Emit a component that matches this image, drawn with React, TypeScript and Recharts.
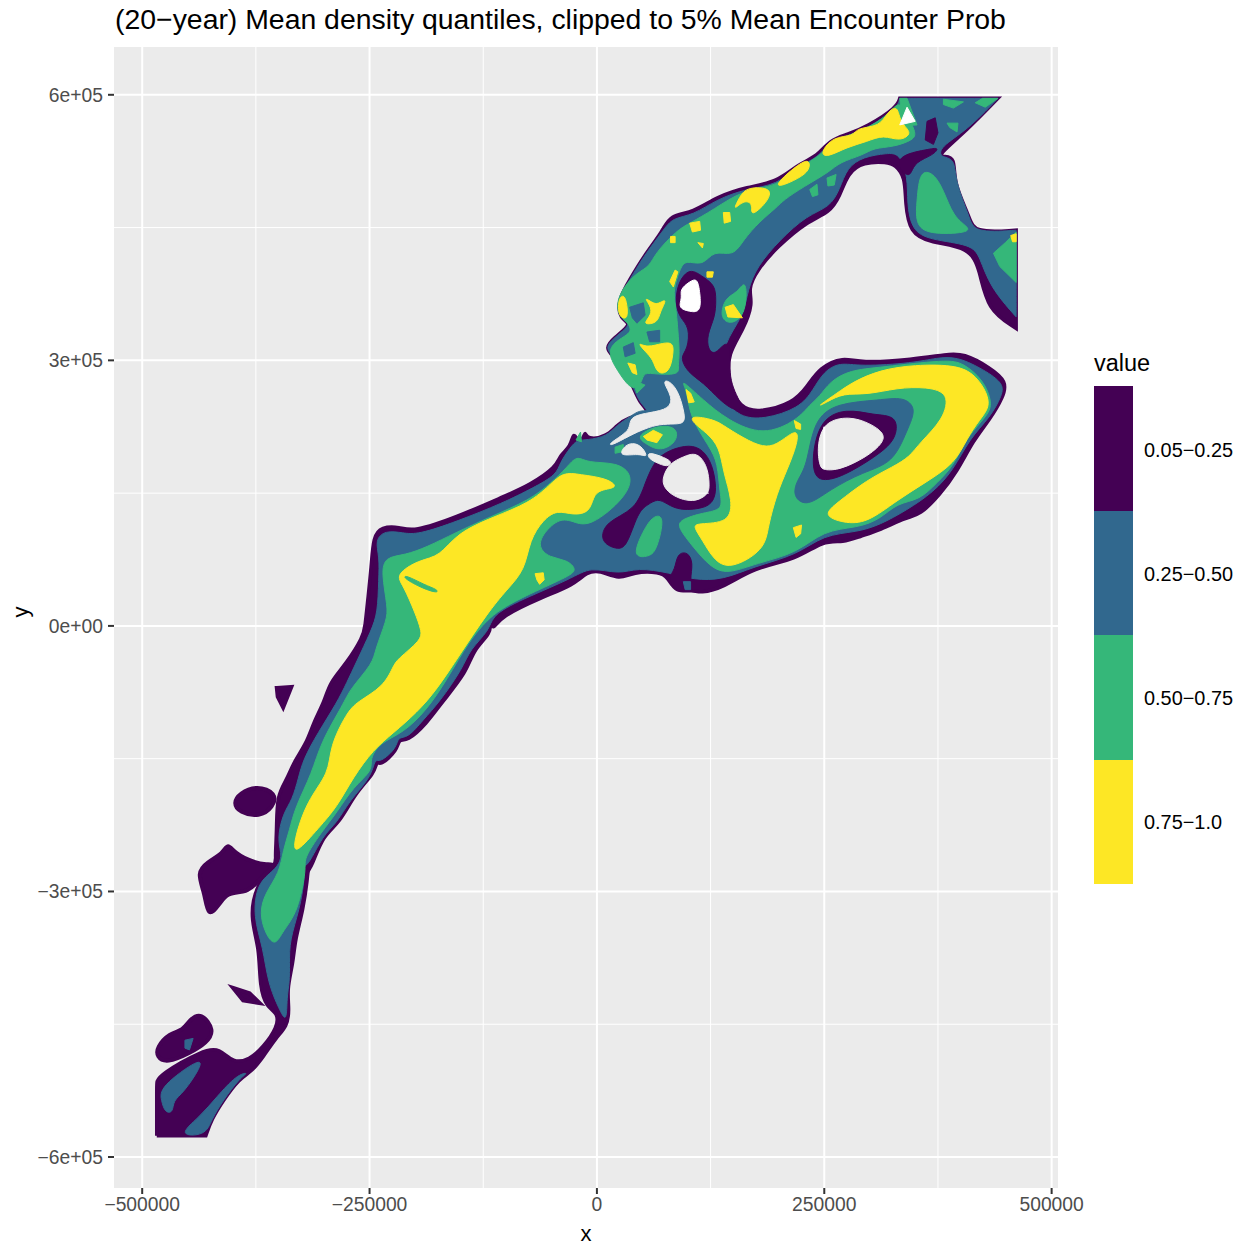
import { ScatterChart, Scatter, XAxis, YAxis, CartesianGrid } from 'recharts'

// all rings are [x, y], in thousands of map units
// a vertex written three times keeps its corner sharp once the ring is smoothed
const DARK_MAIN = [[-484,-576],[-484,-576],[-484,-576],[-430,-576],[-430,-576],[-430,-576],[-424,-558],[-411,-536],[-393,-511],[-380,-504],[-367,-487],[-352,-464],[-341,-453],[-338,-434],[-341,-411],[-334,-381],[-332,-355],[-323,-321],[-318,-284],[-318,-276],[-314,-273],[-301,-236],[-283,-223],[-266,-189],[-244,-166],[-242,-151],[-239,-159],[-219,-140],[-218,-127],[-209,-131],[-187,-110],[-171,-87],[-143,-52],[-136,-27],[-116,-8],[-118,5],[-114,-5],[-107,10],[-59,33],[-26,46],[-11,61],[3,63],[25,52],[40,61],[69,61],[78,55],[86,38],[106,41],[113,37],[139,43],[172,66],[220,75],[249,97],[271,94],[289,101],[311,108],[341,123],[355,125],[377,148],[396,174],[414,210],[432,233],[447,259],[451,276],[432,292],[403,308],[385,307],[348,301],[289,297],[271,304],[245,292],[231,270],[216,252],[179,241],[157,246],[144,275],[144,308],[161,334],[172,365],[166,380],[176,402],[198,428],[231,457],[256,467],[267,485],[276,512],[293,524],[319,524],[328,521],[339,507],[339,478],[344,444],[366,433],[410,428],[421,402],[429,357],[461,336],[461,336],[461,336],[461,447],[461,447],[461,447],[414,444],[410,462],[392,501],[394,530],[381,530],[375,532],[407,560],[441,596],[441,596],[441,596],[333,596],[333,596],[333,596],[330,586],[297,564],[275,555],[256,549],[242,530],[223,523],[198,501],[165,496],[132,485],[106,467],[80,464],[73,447],[51,417],[36,391],[23,368],[25,346],[40,342],[18,325],[9,314],[18,304],[29,293],[40,270],[47,252],[58,242],[47,237],[36,236],[22,227],[11,214],[-11,210],[-13,221],[-15,210],[-22,210],[-26,219],[-29,202],[-41,193],[-44,180],[-74,159],[-103,146],[-154,123],[-202,106],[-217,112],[-237,112],[-246,101],[-248,67],[-252,29],[-255,-1],[-257,-12],[-275,-42],[-294,-64],[-299,-84],[-312,-110],[-319,-132],[-334,-155],[-341,-174],[-352,-191],[-352,-231],[-354,-264],[-352,-268],[-374,-290],[-382,-329],[-371,-363],[-371,-408],[-363,-431],[-351,-437],[-351,-453],[-367,-476],[-382,-490],[-400,-494],[-415,-477],[-433,-479],[-481,-507],[-484,-516],[-484,-516]]
const DARK_ISLANDS = [
  [[-393,-189],[-374,-180],[-352,-189],[-356,-205],[-371,-216],[-393,-211],[-400,-200]],
  [[-440,-279],[-429,-267],[-411,-257],[-406,-245],[-398,-257],[-378,-267],[-363,-270],[-352,-268],[-374,-290],[-384,-301],[-407,-301],[-415,-315],[-428,-330],[-431,-302]],
  [[-352,-70],[-336,-69],[-345,-92],[-351,-80]],
  [[-400,-409],[-382,-415],[-371,-426],[-389,-423]],
  [[-484,-476],[-470,-460],[-455,-457],[-448,-445],[-435,-436],[-420,-457],[-429,-471],[-448,-483],[-473,-494],[-484,-487]],
]
const BLUE_MAIN = [[-341,-449],[-349,-434],[-362,-403],[-367,-363],[-378,-329],[-374,-290],[-354,-276],[-345,-261],[-352,-242],[-345,-211],[-335,-197],[-328,-171],[-323,-151],[-307,-121],[-286,-87],[-275,-64],[-265,-42],[-248,-5],[-241,15],[-240,52],[-239,78],[-244,97],[-233,108],[-213,105],[-197,103],[-154,118],[-103,139],[-70,156],[-44,171],[-41,184],[-29,202],[-22,210],[-11,210],[11,214],[22,227],[36,236],[47,244],[58,242],[47,252],[40,270],[29,293],[18,304],[9,314],[18,325],[40,342],[25,346],[23,368],[36,391],[51,417],[73,447],[83,461],[106,464],[132,482],[165,494],[198,498],[223,521],[242,528],[256,547],[275,553],[297,562],[330,584],[333,596],[333,596],[333,596],[441,596],[441,596],[441,596],[407,560],[377,541],[377,529],[394,529],[394,501],[410,462],[414,444],[461,447],[461,447],[461,447],[461,349],[461,349],[461,349],[432,383],[421,417],[412,431],[366,436],[346,447],[341,478],[342,507],[333,534],[319,534],[293,530],[275,518],[267,493],[256,473],[231,464],[201,436],[176,406],[166,380],[161,349],[139,320],[135,278],[139,255],[157,236],[183,233],[223,246],[238,267],[249,287],[267,298],[289,293],[348,297],[374,303],[396,304],[421,292],[447,275],[446,261],[432,235],[410,212],[392,176],[370,151],[341,131],[311,114],[286,106],[249,103],[220,80],[172,67],[139,52],[106,52],[80,60],[44,66],[25,58],[-8,67],[-26,54],[-92,26],[-116,10],[-118,-5],[-140,-27],[-147,-47],[-173,-86],[-191,-106],[-208,-127],[-219,-125],[-220,-138],[-239,-155],[-244,-149],[-248,-171],[-272,-197],[-286,-223],[-301,-236],[-318,-272],[-323,-270],[-321,-284],[-327,-321],[-338,-355],[-338,-381],[-338,-403],[-341,-419]]
const BLUE_SW = [
  [[-481,-521],[-435,-487],[-435,-498],[-455,-528],[-466,-536],[-466,-550],[-475,-550],[-479,-536]],
  [[-462,-576],[-430,-576],[-424,-558],[-411,-536],[-393,-511],[-382,-504],[-396,-507],[-418,-532],[-437,-555]],
  [[-453,-468],[-444,-466],[-448,-479],[-453,-477]],
]
const GREEN_SOUTH = [[-354,-363],[-365,-347],[-371,-324],[-365,-302],[-349,-279],[-345,-253],[-338,-231],[-332,-205],[-313,-166],[-304,-132],[-278,-87],[-272,-72],[-246,-42],[-244,-27],[-231,7],[-230,21],[-237,60],[-233,78],[-211,80],[-187,89],[-156,105],[-118,123],[-74,142],[-50,162],[-33,179],[-22,193],[-11,184],[22,185],[40,171],[33,146],[-8,111],[-26,118],[-41,122],[-59,105],[-65,89],[-52,77],[-33,75],[-21,63],[-33,55],[-81,33],[-107,18],[-120,7],[-140,-16],[-165,-61],[-187,-95],[-213,-121],[-239,-132],[-250,-151],[-246,-163],[-268,-182],[-286,-211],[-303,-233],[-323,-264],[-319,-272],[-329,-324],[-345,-344]]
const GREEN_EAST = [[91,280],[99,267],[102,236],[124,202],[133,184],[135,150],[139,131],[117,128],[91,120],[89,111],[106,89],[124,67],[143,58],[176,71],[220,82],[249,108],[286,111],[311,120],[330,139],[355,142],[374,162],[392,180],[407,214],[430,238],[435,252],[425,278],[403,297],[385,301],[311,292],[278,289],[256,276],[245,259],[234,250],[221,233],[183,214],[143,233],[117,255]]
const GREEN_NORTH = [[352,557],[348,549],[326,541],[304,540],[293,532],[267,524],[256,513],[227,496],[205,481],[198,473],[179,457],[161,436],[150,417],[128,425],[117,406],[97,414],[91,402],[84,380],[86,365],[88,348],[89,334],[91,308],[89,293],[91,284],[66,284],[51,287],[50,275],[39,264],[22,289],[11,310],[22,323],[40,332],[33,344],[23,351],[22,368],[31,385],[44,399],[58,406],[64,421],[88,447],[102,455],[128,470],[161,493],[198,496],[223,519],[245,530],[260,549],[286,557],[315,572],[331,592],[336,586]]
const GREEN_PATCHES = [
  [[38,77],[51,108],[62,125],[75,125],[66,86],[58,78]],
  [[141,371],[154,376],[163,391],[165,372],[161,349],[146,340],[135,349]],
  [[381,595],[403,592],[392,585],[381,589]],
  [[424,596],[441,596],[427,586],[416,591]],
  [[385,568],[397,568],[396,558],[388,563]],
  [[333,596],[341,596],[352,566],[336,565]],
  [[355,515],[370,512],[381,493],[392,462],[408,451],[410,444],[363,442],[350,455],[352,481]],
  [[461,445],[449,433],[436,421],[443,406],[461,388]],
  [[234,493],[242,499],[243,487],[237,485]],
  [[253,506],[263,510],[261,498],[254,497]],
  [[42,214],[66,227],[89,225],[88,207],[69,197],[55,205]],
  [[20,202],[29,205],[29,197],[20,195]],
  [[-23,210],[-18,219],[-17,208]],
  [[39,278],[53,272],[44,263]],
]
const BLUE_PATCHES = [
  [[238,233],[264,252],[311,255],[337,259],[352,246],[341,221],[326,184],[293,174],[256,154],[231,134],[215,146],[220,165],[231,180]],
  [[36,360],[51,365],[53,351],[44,342],[39,348]],
  [[55,332],[69,334],[69,321],[58,321]],
  [[29,315],[40,320],[42,308],[31,304]],
]
const YELLOW_PATCHES = [
  [[-332,-259],[-334,-245],[-319,-197],[-294,-166],[-294,-137],[-275,-98],[-264,-86],[-235,-69],[-224,-46],[-220,-38],[-193,-16],[-193,-5],[-200,15],[-213,46],[-222,58],[-195,75],[-173,78],[-154,105],[-114,123],[-74,139],[-52,159],[-37,174],[-19,171],[11,167],[25,156],[3,154],[-4,146],[-8,128],[-26,125],[-44,131],[-59,120],[-74,97],[-79,63],[-99,41],[-120,15],[-151,-33],[-176,-72],[-198,-98],[-224,-121],[-246,-140],[-268,-171],[-286,-205],[-305,-227]],
  [[102,238],[130,233],[141,225],[168,208],[187,201],[201,207],[221,224],[221,207],[209,176],[198,150],[188,112],[185,86],[146,63],[128,75],[116,97],[106,112],[110,116],[146,116],[149,142],[139,173],[135,202],[121,218],[106,229]],
  [[240,246],[264,263],[282,276],[311,289],[348,295],[399,295],[418,281],[429,263],[432,247],[421,233],[407,212],[394,184],[363,163],[330,142],[297,116],[271,116],[248,125],[264,139],[297,165],[326,180],[344,191],[355,207],[381,233],[388,263],[363,270],[330,269],[297,261],[271,263],[253,253]],
  [[-68,59],[-59,60],[-58,52],[-63,47],[-66,52]],
  [[141,360],[150,363],[160,348],[144,349]],
  [[331,589],[319,580],[311,564],[286,563],[282,553],[260,553],[245,534],[253,529],[275,541],[297,547],[315,555],[333,547],[348,557],[333,568]],
  [[234,527],[223,523],[198,501],[199,495],[223,506],[234,515]],
  [[165,496],[194,495],[187,478],[168,461],[172,478],[161,481],[149,468],[157,485]],
  [[139,467],[146,467],[147,457],[140,455]],
  [[102,455],[113,457],[114,447],[105,445]],
  [[81,440],[86,440],[86,433],[81,433]],
  [[111,433],[117,432],[116,427]],
  [[121,400],[128,400],[127,394],[121,394]],
  [[25,372],[31,374],[34,357],[33,346],[25,349],[23,360]],
  [[51,372],[61,365],[67,363],[78,371],[69,354],[67,342],[50,340],[58,349],[61,359]],
  [[86,402],[89,400],[84,383],[80,389]],
  [[44,321],[55,314],[73,320],[84,320],[84,308],[80,286],[66,284],[62,301],[53,310]],
  [[34,297],[42,295],[44,284],[39,286]],
  [[98,267],[103,263],[107,253],[101,252]],
  [[455,441],[461,443],[461,434],[457,434]],
  [[51,214],[62,221],[72,216],[66,207],[55,210]],
  [[217,232],[224,228],[224,222],[219,223]],
  [[216,111],[225,114],[224,104],[219,100]],
]
const GREEN_STREAK = [[-211,58],[-189,46],[-175,41],[-175,37],[-191,42],[-213,54]]
const DARK_PATCHES = [
  [[102,405],[117,394],[130,385],[131,368],[130,349],[121,329],[122,312],[130,306],[140,320],[148,318],[144,275],[163,246],[152,242],[135,255],[117,275],[100,286],[91,304],[100,312],[102,338],[91,348],[86,365],[89,388]],
  [[64,188],[80,199],[102,205],[117,199],[127,182],[131,159],[130,145],[122,133],[91,130],[77,138],[67,144],[56,137],[45,129],[33,89],[22,86],[3,95],[9,118],[43,131],[53,162]],
  [[88,82],[100,84],[106,71],[102,52],[106,41],[86,38],[78,55],[86,63]],
  [[328,524],[341,534],[363,538],[377,541],[370,532],[350,524],[346,512],[341,507]],
  [[363,570],[372,574],[375,557],[370,544],[361,549]],
  [[234,168],[242,233],[275,246],[304,238],[330,238],[330,214],[315,197],[278,173],[253,163]],
]
const BLUE_DOT = [[95,50],[103,50],[103,41],[97,41]]
const HOLES_GREY = [
  [[245,180],[242,202],[249,231],[278,237],[300,229],[316,218],[315,207],[297,191],[267,176],[249,176]],
  [[72,168],[80,184],[95,191],[110,197],[122,180],[124,157],[122,148],[106,139],[84,146],[73,157]],
  [[38,237],[58,241],[80,245],[83,259],[72,276],[78,278],[89,267],[96,242],[97,229],[86,228],[69,228],[53,223],[36,215],[15,203],[13,206],[34,219],[36,227]],
  [[23,191],[31,205],[42,207],[51,201],[56,190],[47,195]],
  [[56,197],[75,190],[83,185],[78,179],[64,185],[56,190]],
]
const HOLES_WHITE = [
  [[91,380],[102,389],[110,393],[113,380],[115,354],[102,355],[89,359],[94,371]],
  [[341,586],[350,570],[333,566]],
]
// the grid showing through the round bay and the lake
const BAY_GRID = [[86,150],[123,150]]
const LAKE_GRID = [[250,178],[250,225]]

const PANEL = '#EBEBEB'
const DARK = '#440154'
const BLUE = '#31688E'
const GREEN = '#35B779'
const YELLOW = '#FDE725'

const X_MAJOR = [-500000, -250000, 0, 250000, 500000]
const X_MINOR = [-375000, -125000, 125000, 375000]
const Y_MAJOR = [-600000, -300000, 0, 300000, 600000]
const Y_MINOR = [-450000, -150000, 150000, 450000]
const Y_LABELS = ['\u22126e+05', '\u22123e+05', '0e+00', '3e+05', '6e+05']

const LEGEND_LABELS = ['0.05\u22120.25', '0.25\u22120.50', '0.50\u22120.75', '0.75\u22121.0']
const LEGEND_COLORS = [DARK, BLUE, GREEN, YELLOW]

type Layer = [number[][], string, number]
const tag = (rings: number[][][], color: string, width = 1) => rings.map((r) => [r, color, width] as Layer)

// the outer dark rings get a wider stroke so the coast band stays as thick as in the map
const layers: Layer[] = [
  ...tag([DARK_MAIN], DARK, 3.5),
  ...tag(DARK_ISLANDS, DARK, 4),
  ...tag([BLUE_MAIN], BLUE),
  ...tag(BLUE_SW, BLUE),
  ...tag([GREEN_SOUTH, GREEN_EAST, GREEN_NORTH], GREEN),
  ...tag(GREEN_PATCHES, GREEN),
  ...tag(BLUE_PATCHES, BLUE),
  ...tag(YELLOW_PATCHES, YELLOW),
  ...tag([GREEN_STREAK], GREEN),
  ...tag(DARK_PATCHES, DARK),
  ...tag([BLUE_DOT], BLUE),
  ...tag(HOLES_GREY, PANEL),
  ...tag(HOLES_WHITE, '#FFFFFF'),
]

const toPoints = (ring: number[][]) => ring.map(([x, y]) => ({ x: x * 1000, y: y * 1000 }))
const noDot = () => null

const FONT = '"Liberation Sans", Arial, sans-serif'
const tickStyle = { fontFamily: FONT, fontSize: 19.3, fill: '#4D4D4D' }
const tickLine = { stroke: '#333333', strokeWidth: 2 }

const xLabel = (v: number) => String(v).replace('-', '\u2212')
const yLabel = (v: number) => Y_LABELS[Y_MAJOR.indexOf(v)]

export default function App() {
  return (
    <div style={{ position: 'absolute', left: 0, top: 0, width: 1244, height: 1246, background: '#fff', fontFamily: FONT }}>
      <div style={{ position: 'absolute', left: 115, top: 3, fontSize: 28.4, color: '#000', whiteSpace: 'nowrap' }}>
        (20{'\u2212'}year) Mean density quantiles, clipped to 5% Mean Encounter Prob
      </div>
      <ScatterChart width={1244} height={1246} margin={{ top: 47, right: 186, bottom: 0, left: 14 }}>
        <CartesianGrid fill={PANEL} stroke="#fff" strokeWidth={1} horizontalValues={Y_MINOR} verticalValues={X_MINOR} />
        <CartesianGrid stroke="#fff" strokeWidth={2} horizontalValues={Y_MAJOR} verticalValues={X_MAJOR} />
        <XAxis
          type="number"
          dataKey="x"
          domain={[-531000, 507000]}
          ticks={X_MAJOR}
          tickFormatter={xLabel}
          allowDataOverflow
          height={58}
          axisLine={false}
          tickLine={tickLine}
          tickSize={6}
          tickMargin={3}
          tick={tickStyle}
          label={{ value: 'x', position: 'insideBottom', offset: 5, style: { fontFamily: FONT, fontSize: 22, fill: '#000' } }}
        />
        <YAxis
          type="number"
          dataKey="y"
          domain={[-635000, 654000]}
          ticks={Y_MAJOR}
          tickFormatter={yLabel}
          allowDataOverflow
          width={100}
          axisLine={false}
          tickLine={tickLine}
          tickSize={6}
          tickMargin={5}
          tick={tickStyle}
          label={{ value: 'y', angle: -90, position: 'insideLeft', offset: 6, style: { fontFamily: FONT, fontSize: 22, fill: '#000' } }}
        />
        {layers.map(([ring, color, width], i) => (
          <Scatter
            key={i}
            data={toPoints(ring)}
            line={{ fill: color, stroke: color, strokeWidth: width }}
            lineType="joint"
            lineJointType={ring.length >= 6 ? 'basisClosed' : 'linearClosed'}
            shape={noDot}
            isAnimationActive={false}
          />
        ))}
        <Scatter
          data={toPoints(BAY_GRID)}
          line={{ stroke: '#fff', strokeWidth: 1 }}
          lineType="joint"
          shape={noDot}
          isAnimationActive={false}
        />
        <Scatter
          data={toPoints(LAKE_GRID)}
          line={{ stroke: '#fff', strokeWidth: 2 }}
          lineType="joint"
          shape={noDot}
          isAnimationActive={false}
        />
      </ScatterChart>
      <div style={{ position: 'absolute', left: 1094, top: 350, fontSize: 23.5, color: '#000' }}>value</div>
      {LEGEND_LABELS.map((label, i) => (
        <div key={label}>
          <div style={{ position: 'absolute', left: 1094, top: 386 + i * 124.5, width: 39, height: 124.5, background: LEGEND_COLORS[i] }} />
          <div style={{ position: 'absolute', left: 1144, top: 438.5 + i * 124, fontSize: 19.9, color: '#000', whiteSpace: 'nowrap' }}>{label}</div>
        </div>
      ))}
    </div>
  )
}
